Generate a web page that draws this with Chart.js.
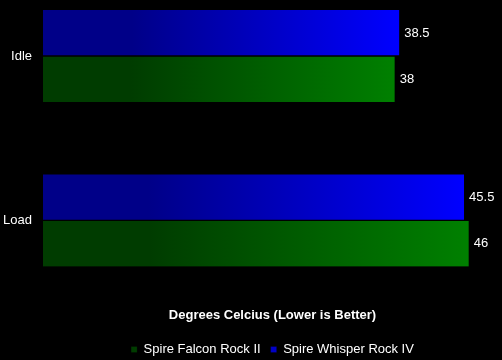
<!DOCTYPE html>
<html>
<head>
<meta charset="utf-8">
<script src="https://cdn.jsdelivr.net/npm/chart.js@4"></script>
<style>
  html,body{margin:0;padding:0;background:#000}
  #wrap{width:502px;height:360px}
</style>
</head>
<body>
<div id="wrap"><canvas id="c"></canvas></div>
<script>
// data
const categories = ['Idle', 'Load'];
const whisperRock = [38.5, 45.5];
const falconRock = [38, 46];
const seriesNames = ['Spire Whisper Rock IV', 'Spire Falcon Rock II'];
const axisTitle = 'Degrees Celcius (Lower is Better)';

const FONT = 'Arial, "Liberation Sans", sans-serif';

// gradient per bar, dark at zero -> bright at bar end
function barGrad(dark, bright){
  return ctx => {
    const ch = ctx.chart, x = ch.scales && ch.scales.x;
    if(!ch.chartArea || !x) return bright;
    const x0 = x.getPixelForValue(0), x1 = x.getPixelForValue(ctx.raw);
    if(!isFinite(x0) || !isFinite(x1) || x1 <= x0) return bright;
    const g = ch.ctx.createLinearGradient(x0, 0, x1, 0);
    g.addColorStop(0, dark);
    g.addColorStop(0.25, dark);
    g.addColorStop(1, bright);
    return g;
  };
}

// value labels at bar end
const valueLabels = {
  id: 'valueLabels',
  afterDatasetsDraw(chart){
    const c = chart.ctx;
    c.save();
    c.font = '13px ' + FONT;
    c.fillStyle = '#ffffff';
    c.textBaseline = 'middle';
    c.textAlign = 'left';
    chart.data.datasets.forEach((ds, i) => {
      chart.getDatasetMeta(i).data.forEach((bar, j) => {
        c.fillText(String(ds.data[j]), bar.x + 5, bar.y);
      });
    });
    c.restore();
  }
};

new Chart(document.getElementById('c'), {
  type: 'bar',
  data: {
    labels: categories,
    datasets: [
      { label: seriesNames[0], data: whisperRock,
        backgroundColor: barGrad('#000088', '#0000ff'),
        borderColor: '#000', borderWidth: {top:0, right:0, bottom:1, left:0},
        barThickness: 46, clip: false },
      { label: seriesNames[1], data: falconRock,
        backgroundColor: barGrad('#003c00', '#008000'),
        borderColor: '#000', borderWidth: {top:1, right:0, bottom:0, left:0},
        barThickness: 46, clip: false }
    ]
  },
  options: {
    indexAxis: 'y',
    responsive: true,
    maintainAspectRatio: false,
    animation: false,
    layout: { padding: { top: 56, left: 0, right: 0, bottom: -6 } },
    scales: {
      x: {
        min: 0, max: 49.6,
        grid: { display: false, drawTicks: false },
        border: { display: false },
        ticks: { display: false },
        title: {
          display: true, text: axisTitle, color: '#ffffff',
          font: { family: FONT, size: 13, weight: 'bold' },
          padding: { top: 87, bottom: 10 }
        }
      },
      y: {
        offset: false,
        grid: { display: false, drawTicks: false },
        border: { display: false },
        ticks: { color: '#ffffff', padding: 11, font: { family: FONT, size: 13 } },
        afterFit(s){ s.width = 43; }
      }
    },
    plugins: {
      legend: {
        position: 'bottom',
        fullSize: false,
        reverse: true,
        labels: {
          color: '#ffffff', boxWidth: 6, boxHeight: 6, padding: 10,
          font: { family: FONT, size: 13 }
        }
      },
      tooltip: { enabled: false }
    }
  },
  plugins: [valueLabels]
});
</script>
</body>
</html>
